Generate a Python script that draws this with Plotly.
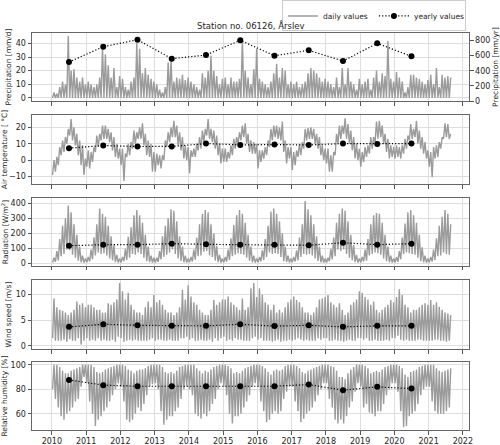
import plotly.graph_objects as go

# ---------------- data ----------------
# yearly values (plotted at mid-year)
years = list(range(2010, 2021))
precip_yearly = [516, 718, 811, 560, 608, 803, 599, 671, 529, 763, 591]   # mm/yr
temp_yearly = [7.3, 8.9, 8.3, 8.4, 10.1, 9.3, 9.5, 9.3, 10.1, 9.9, 10.1]
rad_yearly = [116, 123, 123, 130, 125, 123, 123, 119, 136, 123, 130]
wind_yearly = [3.7, 4.2, 4.0, 3.9, 3.9, 4.2, 3.85, 4.0, 3.7, 3.9, 3.9]
rh_yearly = [87.6, 83.3, 82.4, 82.4, 82.4, 82.4, 82.4, 83.8, 79.2, 81.9, 80.5]

# daily values, summarised per month (Jan 2010 .. Aug 2021) as low / high readings
precip_dry = 0.0
precip_high = [
    4, 3, 8, 12, 10, 45.3, 20, 21, 15, 12, 15, 10,
    12, 10, 8, 10, 15, 37, 32, 24, 15, 22, 8, 16,
    14, 8, 6, 12, 15, 40, 36, 18, 22, 17, 14, 12,
    10, 6, 4, 8, 26, 28, 12, 15, 14, 17, 13, 15,
    12, 10, 8, 6, 18, 15, 20, 31, 20, 16, 10, 14,
    15, 10, 15, 12, 12, 14, 43.6, 20, 15, 10, 21, 36,
    14, 12, 10, 8, 12, 18, 25, 15, 22, 20, 10, 12,
    10, 12, 8, 10, 12, 18, 22, 20, 18, 15, 12, 14,
    12, 10, 8, 15, 8, 22, 10, 22, 12, 10, 6, 14,
    10, 12, 14, 6, 15, 20, 12, 18, 16, 41.7, 14, 12,
    19, 15, 12, 4, 8, 17, 17, 15, 14, 12, 10, 13,
    17, 10, 22, 8, 17, 15, 16, 15,
]
temp_low = [
    -9, -7, -3, 3, 5, 10, 15, 12, 9, 3, -3, -9,
    -4, -5, -1, 5, 8, 12, 13, 13, 11, 6, 2, 1,
    -3, -12.6, 2, 3, 7, 10, 13, 13, 9, 3, 2, -7,
    -7, -3, -5, 0, 8, 11, 14, 14, 9, 6, 1, 0,
    -8, 2, 2, 6, 7, 11, 15, 13, 11, 7, 3, -2,
    -1, -1, 1, 3, 7, 10, 12, 14, 10, 5, 4, 4,
    -5, -1, 1, 3, 8, 12, 14, 13, 12, 5, -2, 1,
    -6, -3, 2, 3, 7, 12, 13, 13, 10, 7, 3, 0,
    -2, -7, -7, 3, 10, 13, 16, 13, 10, 6, 1, 0,
    -4, -1, 2, 4, 7, 11, 13, 14, 10, 5, 1, 2,
    1, 2, 1, 4, 7, 12, 13, 14, 10, 7, 4, 1,
    -4, -10.4, 1, 2, 7, 13, 14, 13,
]
temp_high = [
    0, 2, 8, 12, 14, 19, 25, 20, 16, 12, 9, 1,
    6, 5, 8, 15, 16, 21, 21, 19, 17, 14, 10, 7,
    7, 4, 10, 11, 18, 17, 20, 22.5, 16, 12, 10, 5,
    4, 3, 3, 12, 17, 20, 24, 21, 17, 14, 9, 8,
    6, 7, 10, 14, 18, 19, 25, 19, 18, 15, 10, 7,
    7, 5, 9, 13, 14, 17, 21, 22.5, 16, 12, 11, 10,
    6, 6, 8, 12, 19, 21, 21, 20, 23.5, 12, 8, 8,
    5, 6, 10, 11, 19, 19.5, 20, 19, 16, 14, 9, 7,
    7, 3, 5, 16, 21, 21, 25.5, 22, 18, 14, 10, 7,
    5, 8, 9, 14, 14, 23.5, 24, 21, 16, 13, 9, 8,
    9, 8, 9, 13, 15, 22, 19, 24, 18, 14, 11, 6,
    5, 8, 9, 11, 14, 22.5, 22, 16,
]
rad_low = [
    4, 8, 18, 45, 60, 90, 85, 55, 35, 15, 5, 3,
    5, 10, 25, 50, 70, 60, 65, 50, 30, 18, 6, 3,
    4, 12, 20, 35, 60, 55, 70, 60, 35, 12, 6, 3,
    3, 8, 25, 40, 55, 70, 90, 60, 30, 14, 5, 3,
    5, 10, 22, 45, 50, 75, 80, 50, 40, 15, 6, 3,
    4, 9, 20, 45, 55, 65, 60, 55, 35, 15, 5, 3,
    5, 10, 20, 40, 70, 60, 65, 60, 40, 12, 7, 3,
    4, 10, 18, 40, 60, 55, 60, 50, 30, 14, 5, 3,
    3, 12, 25, 45, 90, 80, 90, 60, 35, 18, 6, 3,
    4, 10, 15, 50, 60, 70, 65, 55, 30, 12, 5, 3,
    3, 8, 25, 60, 70, 65, 60, 55, 35, 12, 5, 3,
    4, 10, 20, 45, 50, 70, 60, 55,
]
rad_high = [
    35, 80, 160, 250, 300, 385, 340, 260, 190, 110, 50, 30,
    40, 90, 170, 260, 365, 330, 310, 250, 180, 120, 55, 30,
    40, 95, 175, 240, 320, 355, 320, 270, 190, 110, 50, 35,
    35, 80, 180, 250, 300, 360, 350, 280, 180, 110, 50, 30,
    40, 90, 170, 260, 330, 355, 340, 260, 200, 115, 55, 30,
    40, 90, 165, 255, 320, 355, 330, 270, 190, 110, 50, 30,
    40, 85, 160, 250, 345, 365, 330, 280, 200, 110, 50, 30,
    40, 85, 170, 260, 415, 360, 320, 260, 180, 110, 50, 30,
    35, 95, 170, 270, 330, 365, 350, 280, 190, 120, 55, 30,
    40, 90, 160, 260, 320, 335, 330, 270, 190, 110, 50, 30,
    40, 80, 170, 265, 340, 355, 320, 270, 190, 105, 50, 30,
    40, 90, 165, 250, 310, 355, 330, 260,
]
wind_low = [
    1.5, 1.0, 1.0, 1.0, 1.2, 0.8, 1.3, 1.0, 1.0, 1.5, 0.3, 1.0,
    1.5, 1.0, 1.2, 1.0, 1.5, 1.0, 1.2, 1.0, 1.0, 1.2, 0.8, 1.8,
    1.5, 0.8, 1.0, 1.2, 1.0, 1.2, 1.0, 1.0, 1.0, 1.0, 1.2, 1.5,
    1.0, 1.2, 1.2, 1.0, 1.0, 1.2, 1.0, 1.0, 1.0, 1.5, 1.5, 1.8,
    1.2, 1.5, 1.0, 1.0, 1.2, 1.0, 1.0, 1.2, 0.8, 1.5, 1.0, 1.5,
    1.8, 1.0, 1.2, 1.0, 1.5, 1.2, 1.2, 1.0, 1.0, 1.0, 1.5, 1.8,
    1.2, 1.5, 1.0, 1.0, 1.0, 0.8, 1.0, 1.2, 0.8, 1.0, 1.0, 1.2,
    1.0, 1.2, 1.5, 1.2, 1.0, 1.2, 1.0, 1.0, 1.0, 1.5, 1.2, 1.5,
    1.5, 1.0, 1.0, 1.2, 1.0, 1.0, 0.8, 1.0, 1.2, 1.0, 1.0, 1.5,
    1.5, 1.2, 1.5, 1.0, 1.0, 1.2, 1.0, 1.0, 1.0, 1.2, 1.0, 1.5,
    1.5, 2.0, 1.2, 1.0, 1.2, 1.0, 1.0, 1.0, 1.2, 1.2, 1.0, 1.0,
    1.0, 1.0, 1.2, 1.2, 1.0, 1.0, 0.8, 1.0,
]
wind_high = [
    9.2, 7.5, 7.0, 6.8, 6.5, 6.0, 6.5, 7.0, 8.6, 8.0, 8.3, 7.5,
    8.0, 8.0, 7.5, 7.0, 7.0, 6.5, 6.5, 8.3, 8.0, 8.5, 9.0, 12.2,
    10.6, 9.0, 10.3, 8.0, 7.0, 6.5, 6.5, 6.0, 7.5, 8.6, 7.5, 9.9,
    8.5, 8.9, 8.0, 7.0, 6.5, 6.5, 6.0, 6.5, 7.5, 10.9, 9.0, 11.8,
    9.6, 8.5, 8.0, 7.0, 6.5, 6.0, 6.0, 7.0, 8.9, 8.0, 8.5, 9.0,
    9.0, 9.6, 8.5, 8.0, 7.5, 7.0, 9.2, 7.0, 7.5, 11.2, 12.2, 9.5,
    11.2, 10.0, 8.5, 8.0, 7.0, 8.0, 6.5, 7.0, 6.5, 7.5, 8.5, 9.0,
    9.6, 8.9, 8.5, 7.5, 6.5, 6.5, 6.0, 6.5, 7.5, 9.0, 9.2, 9.5,
    9.9, 8.5, 8.0, 7.5, 8.3, 7.0, 6.0, 6.5, 8.0, 8.5, 9.0, 10.6,
    10.3, 9.5, 9.0, 8.0, 8.6, 7.0, 6.5, 7.0, 7.5, 8.0, 8.9, 8.5,
    9.5, 11.0, 9.9, 8.0, 7.5, 6.5, 7.0, 7.0, 7.5, 8.0, 8.3, 8.0,
    8.9, 8.0, 8.5, 7.6, 7.0, 6.5, 6.3, 6.0,
]
rh_low = [
    80, 72, 65, 58, 55, 60, 62, 65, 70, 72, 82, 90,
    85, 70, 60, 50, 55, 58, 62, 65, 70, 75, 80, 85,
    82, 70, 55, 53, 55, 60, 65, 62, 68, 75, 82, 84,
    85, 80, 62, 51, 55, 58, 58, 62, 65, 72, 80, 82,
    80, 75, 60, 58, 56, 60, 58, 62, 68, 72, 80, 85,
    82, 75, 60, 52, 58, 58, 60, 65, 70, 75, 82, 85,
    82, 70, 62, 53, 55, 60, 62, 60, 62, 72, 78, 82,
    82, 70, 62, 53, 56, 60, 62, 65, 70, 75, 80, 85,
    85, 72, 65, 55, 52, 55, 52, 58, 65, 70, 78, 85,
    82, 65, 68, 61, 60, 58, 62, 62, 68, 75, 80, 85,
    85, 78, 62, 49, 50, 58, 60, 62, 68, 75, 80, 82,
    82, 70, 62, 60, 60, 60, 62, 65,
]
rh_high = [
    100, 100, 98, 95, 93, 93, 95, 96, 97, 98, 100, 100,
    100, 100, 98, 94, 93, 94, 96, 97, 98, 99, 100, 100,
    100, 99, 96, 95, 93, 95, 96, 96, 97, 99, 100, 100,
    100, 100, 98, 94, 93, 94, 93, 95, 98, 99, 100, 100,
    100, 100, 97, 95, 93, 95, 94, 96, 98, 99, 100, 100,
    100, 99, 97, 93, 94, 93, 95, 97, 98, 99, 100, 100,
    100, 99, 97, 94, 92, 95, 96, 95, 96, 99, 100, 100,
    100, 99, 97, 94, 93, 95, 96, 97, 98, 99, 100, 100,
    100, 99, 98, 95, 90, 90, 88, 93, 96, 98, 100, 100,
    100, 99, 97, 93, 94, 95, 94, 96, 98, 99, 100, 100,
    100, 99, 97, 92, 90, 94, 95, 96, 98, 99, 100, 100,
    100, 100, 97, 95, 94, 95, 96, 97,
]
x_ticks = list(range(2010, 2023))

# ---------------- helpers ----------------
def month_x(n):
    xs = []
    for m in range(n):
        xs += [2010 + (m + 0.25) / 12, 2010 + (m + 0.75) / 12]
    return xs


def interleave(lo, hi):
    out = []
    for a, b in zip(lo, hi):
        out += [a, b]
    return out


year_x = [y + 0.5 for y in years]
n_months = len(temp_low)
dx = month_x(n_months)

GRAY = "rgb(155,155,155)"
FONT = "DejaVu Sans"
TXT = "#262626"

fig = go.Figure()

panels = [
    (interleave([precip_dry] * len(precip_high), precip_high), precip_yearly, "y6"),
    (interleave(temp_low, temp_high), temp_yearly, "y2"),
    (interleave(rad_low, rad_high), rad_yearly, "y3"),
    (interleave(wind_low, wind_high), wind_yearly, "y4"),
    (interleave(rh_low, rh_high), rh_yearly, "y5"),
]
for i, (daily, yearly, yref) in enumerate(panels, start=1):
    xa = "x" if i == 1 else f"x{i}"
    ya = "y" if i == 1 else f"y{i}"
    fig.add_trace(go.Scatter(x=dx, y=daily, xaxis=xa, yaxis=ya, mode="lines",
                             line=dict(color=GRAY, width=1.4),
                             name="daily values", showlegend=(i == 1)))
    fig.add_trace(go.Scatter(x=year_x, y=yearly, xaxis=xa, yaxis=yref,
                             mode="lines+markers",
                             line=dict(color="black", width=1.2, dash="1.2px,2px"),
                             marker=dict(color="black", size=6),
                             name="yearly values", showlegend=(i == 1)))

domains = [[0.8287, 1.0], [0.6196, 0.7935], [0.4131, 0.5844],
           [0.2040, 0.3778], [0.0, 0.1713]]
yranges = [[-2.27, 47.6], [-14.5, 27.5], [-20, 436], [-0.6, 12.8], [46.7, 102.2]]
yticks = [[0, 10, 20, 30, 40], [-10, 0, 10, 20], [0, 100, 200, 300, 400],
          [0, 5, 10], [60, 80, 100]]
ytitles = ["Precipitation [mm/d]", "Air temperature [ °C]",
           "Radiation [W/m<sup>2</sup>]", "Wind speed [m/s]",
           "Relative humidity [%]"]

axis_common = dict(showline=True, linecolor="#666666", linewidth=1, mirror=True,
                   ticks="outside", ticklen=3.5, tickwidth=0.8, tickcolor="#555",
                   showgrid=True, gridcolor="#dedede", gridwidth=0.8,
                   zeroline=False, automargin=False,
                   tickfont=dict(size=8, color=TXT, family=FONT))

layout = dict(width=500, height=445, plot_bgcolor="white", paper_bgcolor="white",
              margin=dict(l=32, r=31, t=33, b=15, autoexpand=False),
              font=dict(family=FONT, size=8, color=TXT))
for i in range(1, 6):
    xk = "xaxis" if i == 1 else f"xaxis{i}"
    yk = "yaxis" if i == 1 else f"yaxis{i}"
    layout[xk] = dict(axis_common, anchor="y" if i == 1 else f"y{i}",
                      range=[2009.42, 2022.18], tickvals=x_ticks,
                      showticklabels=(i == 5), domain=[0, 1])
    layout[yk] = dict(axis_common, anchor="x" if i == 1 else f"x{i}",
                      domain=domains[i - 1], range=yranges[i - 1],
                      tickvals=yticks[i - 1],
                      title=dict(text=ytitles[i - 1], standoff=3,
                                 font=dict(size=7.5, color=TXT, family=FONT)))
layout["yaxis6"] = dict(axis_common, overlaying="y", side="right", anchor="x",
                        range=[0, 900], tickvals=[0, 200, 400, 600, 800],
                        showgrid=False, mirror=False,
                        title=dict(text="Precipitation [mm/yr]", standoff=3,
                                   font=dict(size=7.5, color=TXT, family=FONT)))
fig.update_layout(**layout)

fig.update_layout(
    annotations=[dict(text="Station no. 06126, Årslev", xref="paper", yref="paper",
                      x=0.5, y=1.0 + 8 / 397, xanchor="center", yanchor="middle",
                      showarrow=False, font=dict(size=8.5, color=TXT, family=FONT))],
    legend=dict(orientation="h", x=0.993, xanchor="right", y=1.082, yanchor="top",
                bordercolor="#cccccc", borderwidth=1, bgcolor="white",
                font=dict(size=7.5, color=TXT, family=FONT),
                itemwidth=30, entrywidth=46, entrywidthmode="pixels",
                tracegroupgap=0),
)

fig.write_html("out.html", config={"displayModeBar": False},
               post_script="document.body.style.margin='0px';"
                           "document.body.style.overflow='hidden';")
